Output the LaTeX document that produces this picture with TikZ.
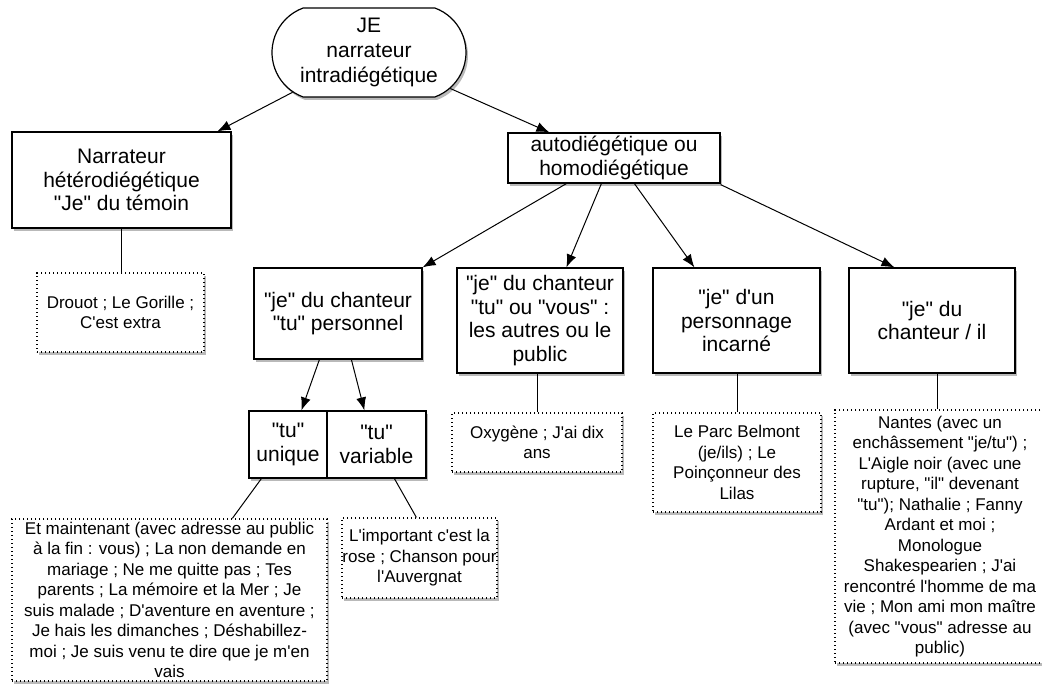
\documentclass[tikz,border=0pt]{standalone}
\usepackage{fontspec}
\setmainfont{Liberation Sans}[Ligatures=TeXOff]
\usetikzlibrary{shapes.misc,shadows,arrows.meta,calc}
\begin{document}
\begin{tikzpicture}[x=1pt,y=-1pt,
  shad/.style={drop shadow={shadow xshift=2pt,shadow yshift=-3pt,opacity=0.5,fill=black!55}},
  box/.style={draw,line width=1.2pt,fill=white,shad,align=center,inner sep=0pt,font=\fontsize{21}{23.5}\selectfont},
  note/.style={draw,line width=1.3pt,dash pattern=on 1.4pt off 2.6pt,fill=white,shad,align=center,inner sep=0pt,font=\fontsize{17}{20.5}\selectfont},
  arr/.style={line width=1pt,-{Latex[length=13pt,width=10pt]}},
  lnk/.style={line width=1pt}]
\useasboundingbox (0,0) rectangle (1042,685);

% main boxes
\node[box, rounded rectangle, rounded rectangle arc length=140, minimum width=194pt, minimum height=89pt, font=\fontsize{21}{25}\selectfont] (root) at (369,52.5) {JE\\narrateur\\intradiégétique};
\node[box, minimum width=219pt, minimum height=96pt] (narr) at (121.5,180) {Narrateur\\hétérodiégétique\\"Je" du témoin};
\node[box, minimum width=212pt, minimum height=50pt] (auto) at (614,158) {autodiégétique ou\\homodiégétique};
\node[box, minimum width=168pt, minimum height=91pt] (c1) at (338,313.5) {"je" du chanteur\\"tu" personnel};
\node[box, minimum width=166pt, minimum height=105pt] (c2) at (540,320.5) {"je" du chanteur\\"tu" ou "vous" :\\les autres ou le\\public};
\node[box, minimum width=167pt, minimum height=105pt] (c3) at (736.5,320.5) {"je" d'un\\personnage\\incarné};
\node[box, minimum width=166pt, minimum height=105pt] (c4) at (932,320.5) {"je" du\\chanteur / il};
\node[box, minimum width=78pt, minimum height=67pt] (uni) at (288,444.5) {"tu"\\unique};
\node[box, minimum width=99pt, minimum height=67pt] (var) at (376.5,444.5) {"tu"\\variable};

% notes
\node[note, minimum width=167pt, minimum height=79pt] (drouot) at (120.5,312.5) {Drouot ; Le Gorille ;\\C'est extra};
\node[note, minimum width=170pt, minimum height=59pt] (oxy) at (537,442.5) {Oxygène ; J'ai dix\\ans};
\node[note, minimum width=168pt, minimum height=99pt] (parc) at (737,462.5) {Le Parc Belmont\\(je/ils) ; Le\\Poinçonneur des\\Lilas};
\node[note, minimum width=210pt, minimum height=253pt] (nantes) at (940,536.5) {Nantes (avec un\\enchâssement "je/tu") ;\\L'Aigle noir (avec une\\rupture, "il" devenant\\"tu"); Nathalie ; Fanny\\Ardant et moi ;\\Monologue\\Shakespearien ; J'ai\\rencontré l'homme de ma\\vie ; Mon ami mon maître\\(avec "vous" adresse au\\public)};
\node[note, minimum width=315pt, minimum height=162pt] (etm) at (169.5,600) {Et maintenant (avec adresse au public\\à la fin : vous) ; La non demande en\\mariage ; Ne me quitte pas ; Tes\\parents ; La mémoire et la Mer ; Je\\suis malade ; D'aventure en aventure ;\\Je hais les dimanches ; Déshabillez-\\moi ; Je suis venu te dire que je m'en\\vais};
\node[note, minimum width=155pt, minimum height=80pt] (imp) at (419.5,558) {L'important c'est la\\rose ; Chanson pour\\l'Auvergnat};

% arrows
\draw[arr] (root) -- ($(narr.north west)+(206,0)$);
\draw[arr] (root) -- ($(auto.north west)+(42,0)$);
\draw[arr] ($(auto.south west)+(59,0)$) -- (c1.north east);
\draw[arr] ($(auto.south west)+(94,0)$) -- ($(c2.north west)+(110,0)$);
\draw[arr] ($(auto.south west)+(127,0)$) -- ($(c3.north west)+(42,0)$);
\draw[arr] ($(auto.south east)+(0,1)$) -- ($(c4.north west)+(46,0)$);
\draw[arr] ($(c1.south west)+(66,0)$) -- ($(uni.north west)+(53,0)$);
\draw[arr] ($(c1.south west)+(98,0)$) -- ($(var.north west)+(38,0)$);

% plain links
\draw[lnk] (narr.south) -- (narr.south |- drouot.north);
\draw[lnk] (oxy.north |- c2.south) -- (oxy.north);
\draw[lnk] (parc.north |- c3.south) -- (parc.north);
\coordinate (c4b) at ($(c4.south)+(5,0)$);
\draw[lnk] (c4b) -- (c4b |- nantes.north);
\draw[lnk] ($(uni.south west)+(13,0)$) -- ($(etm.north west)+(221,0)$);
\draw[lnk] ($(var.south west)+(68,0)$) -- ($(imp.north west)+(75,0)$);
\end{tikzpicture}
\end{document}
